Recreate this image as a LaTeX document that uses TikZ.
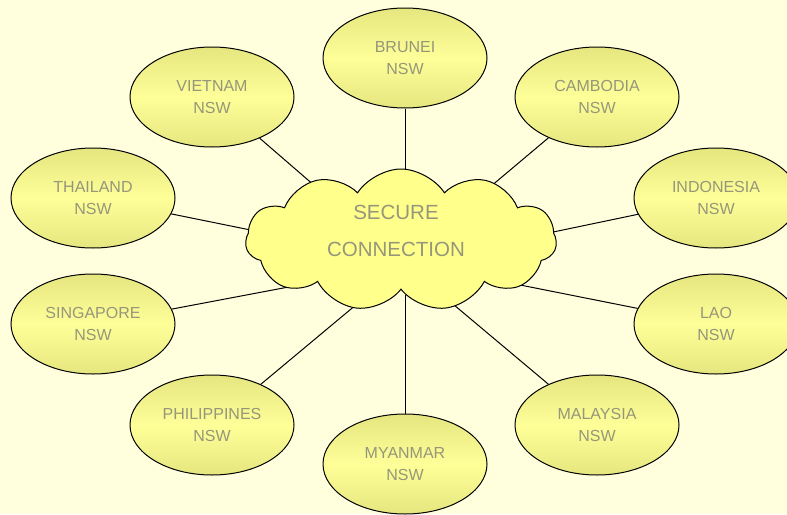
\documentclass[tikz,border=0pt]{standalone}
\usepackage{fontspec}
\setmainfont{Liberation Sans}
\usetikzlibrary{shapes.symbols,shapes.geometric}
\definecolor{bg}{RGB}{255,255,221}
\definecolor{txt}{RGB}{150,150,122}
\definecolor{elldark}{RGB}{230,230,128}
\definecolor{elllight}{RGB}{255,255,153}
\definecolor{cloudfill}{RGB}{255,255,140}
\tikzset{
  country/.style={ellipse, draw=black, line width=1pt, minimum width=164pt, minimum height=100pt,
    inner sep=0pt, shading=axis, top color=elldark, bottom color=elldark, middle color=elllight,
    font=\fontsize{16}{22}\selectfont, text=txt, align=center},
  link/.style={draw=black, line width=1pt},
}
\begin{document}
\begin{tikzpicture}[x=1pt,y=-1pt]
\fill[bg] (0,0) rectangle (787,514);
\useasboundingbox (0,0) rectangle (787,514);
\begin{scope}
\clip (0,0) rectangle (787,514);
\node[country] (brunei) at (405,58) {BRUNEI\\NSW};
\node[country] (vietnam) at (212,97) {VIETNAM\\NSW};
\node[country] (cambodia) at (597,97) {CAMBODIA\\NSW};
\node[country] (thailand) at (93,198) {THAILAND\\NSW};
\node[country] (indonesia) at (716,198) {INDONESIA\\NSW};
\node[country] (singapore) at (93,324) {SINGAPORE\\NSW};
\node[country] (lao) at (716,324) {LAO\\NSW};
\node[country] (philippines) at (212,425) {PHILIPPINES\\NSW};
\node[country] (malaysia) at (597,425) {MALAYSIA\\NSW};
\node[country] (myanmar) at (405,464) {MYANMAR\\NSW};
\end{scope}
\coordinate (cBr) at (405,195);
\coordinate (cVi) at (330,199);
\coordinate (cCa) at (490,187);
\coordinate (cTh) at (285,237);
\coordinate (cIn) at (515,240);
\coordinate (cSi) at (315,282);
\coordinate (cLa) at (480,277);
\coordinate (cPh) at (375,289);
\coordinate (cMa) at (435,289);
\coordinate (cMy) at (405,295);
\draw[link] (brunei) -- (cBr);
\draw[link] (vietnam) -- (cVi);
\draw[link] (cambodia) -- (cCa);
\draw[link] (thailand) -- (cTh);
\draw[link] (indonesia) -- (cIn);
\draw[link] (singapore) -- (cSi);
\draw[link] (lao) -- (cLa);
\draw[link] (philippines) -- (cPh);
\draw[link] (malaysia) -- (cMa);
\draw[link] (myanmar) -- (cMy);
\node[cloud, cloud puffs=11, cloud puff arc=115, aspect=2.2, draw=black, line width=1pt,
  fill=cloudfill, minimum width=311pt, minimum height=142pt, inner sep=0pt] (cloud) at (401,240) {};
\node[font=\fontsize{20.5}{37}\selectfont, text=txt, align=center] (sc) at (396,231) {SECURE\\CONNECTION};
\end{tikzpicture}
\end{document}
